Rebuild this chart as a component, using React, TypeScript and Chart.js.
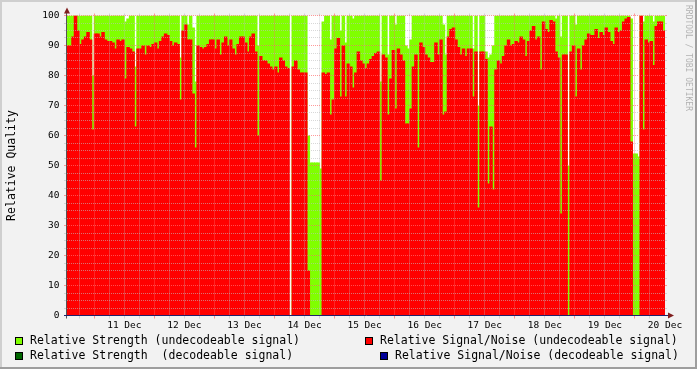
import React, { useEffect, useRef } from 'react';
import { Chart, registerables } from 'chart.js';

Chart.register(...registerables);

// Hours are counted from 10 Dec 00:00. One sample per hour, first sample 10 Dec 13:00.
const FIRST_HOUR = 13;
const AXIS_MIN = 13.1;
const AXIS_MAX = 252;

const dayLabels = ['11 Dec', '12 Dec', '13 Dec', '14 Dec', '15 Dec', '16 Dec', '17 Dec', '18 Dec', '19 Dec', '20 Dec'];
const dayLabelHours = [36, 60, 84, 108, 132, 156, 180, 204, 228, 252];

// Relative Signal/Noise (undecodeable signal), hourly
const snDec10 = [90, 90, 93, 100, 95, 90.5, 92, 93, 94.5, 92, 62];
const snDec11 = [94, 94, 93, 94.5, 92, 91.5, 91.5, 91, 89, 92, 91.5, 92, 79, 89.5, 89, 88, 63, 89, 89, 90, 87, 90, 89.5, 90.5];
const snDec12 = [91, 89, 91.5, 93, 94, 93.5, 91.5, 90, 91, 90.5, 72, 95, 97, 92, 92, 74, 56, 90, 89.5, 89, 89.5, 90.5, 92, 92];
const snDec13 = [89, 92, 87, 91, 93, 90, 92, 89, 87, 90.5, 93, 93, 91, 88, 93, 94, 88, 60, 86.5, 85, 85, 84, 83, 82];
const snDec14 = [83, 81, 86, 85, 83, 82.5, null, 83, 85, 82, 81, 81, 81, 15, null, null, null, null, null, 81, 80.5, 81, 67, 72];
const snDec15 = [89, 92.5, 73, 90, 73, 84, 83, 76, 81, 88, 85, 84, 82.5, 84, 85.5, 86.5, 87.5, 88, 45, 87, 86, 67, 79, 88.5];
const snDec16 = [69, 89, 87, 85, 64, 64, 69, 83, 87, 56, 91, 89.5, 87, 86, 84.5, 84.5, 91, 87, 92, 67, 68, 93, 95.5, 96];
const snDec17 = [92, 89.5, 87, 89, 86.5, 89, 89, 73, 88, 36, 88, 88, 85.5, 44, 63, 42, 82, 85, 84, 86.5, 90, 92, 90, 90.5];
const snDec18 = [91.5, 91, 93, 92, 86.5, 91.5, 95, 96.5, 92, 93, 82, 98, 95.5, 94.5, 98.5, 98, 88, 86, 34, 87, 87, null, 88, 90];
const snDec19 = [73, 89, 82, 90, 92, 94, 93.5, 93.5, 95.5, 92.5, 94.5, 93.5, 96, 94.5, 91.5, 90.5, 96, 94.5, 95, 98, 99, 99.5, 58, null];
const snDec20 = [null, null, 100, 62, 92, 91, 91.5, 83.5, 96.5, 98, 98, 95];

// Relative Strength (undecodeable signal), hourly
const stDec10 = [100, 100, 100, 100, 100, 100, 100, 100, 100, 100, 80];
const stDec11 = [100, 100, 100, 100, 100, 100, 100, 100, 100, 100, 100, 100, 98, 99, 100, 100, 83, 100, 100, 100, 100, 100, 100, 100];
const stDec12 = [100, 100, 100, 100, 100, 100, 100, 100, 100, 100, 86, 100, 100, 97, 100, 96, 78, 100, 100, 100, 100, 100, 100, 100];
const stDec13 = [100, 100, 100, 100, 100, 100, 100, 100, 100, 100, 100, 100, 100, 100, 100, 100, 100, 90, 100, 100, 100, 100, 100, 100];
const stDec14 = [100, 100, 100, 100, 100, 100, null, 100, 100, 100, 100, 100, 100, 60, 51, 51, 51, 51, 49, 98, 100, 100, 92, 100];
const stDec15 = [100, 100, 95, 100, 91, 100, 100, 99, 100, 100, 100, 100, 100, 100, 100, 100, 100, 100, 78, 100, 100, 87, 100, 100];
const stDec16 = [97, 100, 100, 100, 90, 89, 92, 100, 100, 100, 100, 100, 100, 100, 100, 100, 100, 100, 100, 97, 87, 100, 100, 100];
const stDec17 = [100, 100, 100, 100, 100, 100, 100, 89, 100, 70, 100, 100, 88, 86, 87, 90, 100, 100, 100, 100, 100, 100, 100, 100];
const stDec18 = [100, 100, 100, 100, 100, 100, 100, 100, 100, 100, 100, 100, 100, 100, 100, 100, 99, 100, 93, 100, 100, 50, 100, 100];
const stDec19 = [97, 100, 100, 100, 100, 100, 100, 100, 100, 100, 100, 100, 100, 100, 100, 100, 100, 100, 100, 100, 100, 100, 99, 54];
const stDec20 = [54, 53, 100, 98, 100, 100, 100, 98, 100, 100, 100, 100];

const GREEN = '#80FF00';
const DARK_GREEN = '#006600';
const RED = '#FF0000';
const NAVY = '#000099';
const FONT = '"DejaVu Sans Mono", monospace';

function toPoints(days: (number | null)[][]) {
  const flat = ([] as (number | null)[]).concat(...days);
  return flat.map((v, i) => ({ x: FIRST_HOUR + i + 0.5, y: v }));
}

const rrdPlugin = {
  id: 'rrdLook',
  beforeDraw(chart: any) {
    const { ctx, width, height, chartArea: a } = chart;
    ctx.save();
    ctx.fillStyle = '#F2F2F2';
    ctx.fillRect(0, 0, width, height);
    ctx.fillStyle = '#CFCFCF';
    ctx.fillRect(0, 0, width, 2);
    ctx.fillRect(0, 0, 2, height);
    ctx.fillStyle = '#9E9E9E';
    ctx.fillRect(0, height - 2, width, 2);
    ctx.fillRect(width - 2, 0, 2, height);
    ctx.fillStyle = '#FFFFFF';
    ctx.fillRect(a.left, a.top, a.right - a.left, a.bottom - a.top);
    ctx.restore();
  },
  afterDatasetsDraw(chart: any) {
    const { ctx, chartArea: a, scales } = chart;
    const xs = scales.x;
    const ys = scales.y;
    const minor = 'rgba(190,190,190,0.6)';
    const major = 'rgba(255,110,110,0.7)';
    ctx.save();
    ctx.lineWidth = 1;
    // vertical grid every 6 hours, major at midnight
    for (let h = 18; h <= AXIS_MAX; h += 6) {
      const px = Math.floor(xs.getPixelForValue(h)) + 0.5;
      if (px <= a.left + 1 || px > a.right) continue;
      const col = h % 24 === 0 ? major : minor;
      ctx.strokeStyle = col;
      ctx.setLineDash([1, 1]);
      ctx.beginPath();
      ctx.moveTo(px, a.top);
      ctx.lineTo(px, a.bottom);
      ctx.stroke();
      ctx.setLineDash([]);
      ctx.beginPath();
      ctx.moveTo(px, a.bottom);
      ctx.lineTo(px, a.bottom + 3);
      ctx.moveTo(px, a.top - 2);
      ctx.lineTo(px, a.top);
      ctx.stroke();
    }
    // horizontal grid every 2.5, major every 10
    for (let k = 1; k <= 40; k++) {
      const v = k * 2.5;
      const py = Math.floor(ys.getPixelForValue(v)) + 0.5;
      const col = k % 4 === 0 ? major : minor;
      ctx.strokeStyle = col;
      ctx.setLineDash([1, 1]);
      ctx.beginPath();
      ctx.moveTo(a.left, py);
      ctx.lineTo(a.right, py);
      ctx.stroke();
      ctx.setLineDash([]);
      ctx.beginPath();
      ctx.moveTo(a.left - 3, py);
      ctx.lineTo(a.left, py);
      ctx.moveTo(a.right, py);
      ctx.lineTo(a.right + 2, py);
      ctx.stroke();
    }
    // axes
    const x0 = Math.floor(a.left) - 0.5;
    const y0 = Math.floor(a.bottom) + 0.5;
    ctx.strokeStyle = '#555555';
    ctx.beginPath();
    ctx.moveTo(x0, a.bottom + 3);
    ctx.lineTo(x0, a.top - 5);
    ctx.stroke();
    ctx.strokeStyle = '#20206A';
    ctx.beginPath();
    ctx.moveTo(a.left - 3, y0);
    ctx.lineTo(a.right + 4, y0);
    ctx.stroke();
    // arrows
    ctx.fillStyle = '#801F1F';
    ctx.beginPath();
    ctx.moveTo(x0 + 0.5, a.top - 8);
    ctx.lineTo(x0 - 2.5, a.top - 2);
    ctx.lineTo(x0 + 3.5, a.top - 2);
    ctx.closePath();
    ctx.fill();
    ctx.beginPath();
    ctx.moveTo(a.right + 9, y0);
    ctx.lineTo(a.right + 3, y0 - 3);
    ctx.lineTo(a.right + 3, y0 + 3);
    ctx.closePath();
    ctx.fill();
    ctx.restore();
  },
  afterDraw(chart: any) {
    const { ctx } = chart;
    ctx.save();
    ctx.font = '11.5px ' + FONT;
    ctx.textBaseline = 'middle';
    ctx.textAlign = 'left';
    const items = [
      { color: GREEN, text: 'Relative Strength (undecodeable signal)', bx: 15, tx: 30, y: 341 },
      { color: DARK_GREEN, text: 'Relative Strength  (decodeable signal)', bx: 15, tx: 30, y: 356 },
      { color: RED, text: 'Relative Signal/Noise (undecodeable signal)', bx: 365, tx: 380, y: 341 },
      { color: NAVY, text: 'Relative Signal/Noise (decodeable signal)', bx: 380, tx: 395, y: 356 },
    ];
    for (const it of items) {
      ctx.fillStyle = it.color;
      ctx.fillRect(it.bx, it.y - 4, 8, 8);
      ctx.strokeStyle = '#000000';
      ctx.lineWidth = 1;
      ctx.strokeRect(it.bx + 0.5, it.y - 3.5, 7, 7);
      ctx.fillStyle = '#000000';
      ctx.fillText(it.text, it.tx, it.y + 0.5);
    }
    // watermark
    ctx.translate(688, 5);
    ctx.rotate(Math.PI / 2);
    ctx.font = '8px ' + FONT;
    ctx.fillStyle = 'rgba(0,0,0,0.28)';
    ctx.textBaseline = 'middle';
    ctx.fillText('RRDTOOL / TOBI OETIKER', 0, 0);
    ctx.restore();
  },
};

export default function App() {
  const ref = useRef<HTMLCanvasElement | null>(null);
  useEffect(() => {
    document.body.style.margin = '0';
    const canvas = ref.current;
    if (!canvas) return;
    const snData = toPoints([snDec10, snDec11, snDec12, snDec13, snDec14, snDec15, snDec16, snDec17, snDec18, snDec19, snDec20]);
    const stData = toPoints([stDec10, stDec11, stDec12, stDec13, stDec14, stDec15, stDec16, stDec17, stDec18, stDec19, stDec20]);
    const chart = new Chart(canvas, {
      type: 'bar',
      data: {
        datasets: [
          {
            label: 'Relative Signal/Noise (undecodeable signal)',
            data: snData as any,
            backgroundColor: RED,
            borderWidth: 0,
            barPercentage: 1.4,
            categoryPercentage: 1,
            grouped: false,
            inflateAmount: 0,
            order: 0,
          },
          {
            label: 'Relative Strength (undecodeable signal)',
            data: stData as any,
            backgroundColor: GREEN,
            borderWidth: 0,
            barPercentage: 1.4,
            categoryPercentage: 1,
            grouped: false,
            inflateAmount: 0,
            order: 1,
          },
        ],
      },
      options: {
        animation: false,
        responsive: false,
        devicePixelRatio: 1,
        layout: { padding: { left: 0, top: 15.5, right: 32, bottom: 33.5 } },
        plugins: { legend: { display: false }, tooltip: { enabled: false } },
        scales: {
          x: {
            type: 'linear',
            offset: false,
            min: AXIS_MIN,
            max: AXIS_MAX,
            grid: { display: false, drawTicks: false, offset: false },
            border: { display: false },
            afterBuildTicks: (scale: any) => {
              scale.ticks = dayLabelHours.map((v) => ({ value: v }));
            },
            afterFit: (scale: any) => {
              scale.height = 20;
            },
            ticks: {
              autoSkip: false,
              maxRotation: 0,
              minRotation: 0,
              padding: 4,
              color: '#000000',
              font: { family: FONT, size: 9.5 },
              callback: (_v: any, i: number) => dayLabels[i],
            },
          },
          y: {
            type: 'linear',
            min: 0,
            max: 100,
            grid: { display: false, drawTicks: false },
            border: { display: false },
            afterFit: (scale: any) => {
              scale.width = 67;
            },
            ticks: {
              stepSize: 10,
              padding: 7.5,
              color: '#000000',
              font: { family: FONT, size: 9.5 },
            },
            title: {
              display: true,
              text: 'Relative Quality',
              color: '#000000',
              font: { family: FONT, size: 11.5 },
              padding: { top: 5, bottom: 0 },
            },
          },
        },
      },
      plugins: [rrdPlugin],
    });
    return () => chart.destroy();
  }, []);
  return <canvas ref={ref} width={697} height={369} style={{ display: 'block' }} />;
}
